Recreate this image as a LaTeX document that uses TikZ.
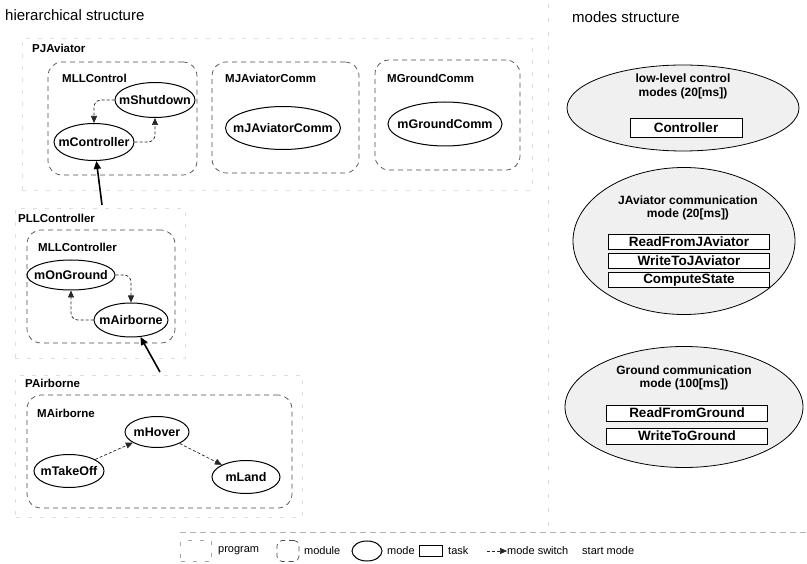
\documentclass[tikz,border=0pt]{standalone}
\usepackage{fontspec}
\setmainfont{Liberation Sans}
\usetikzlibrary{arrows.meta,shapes.geometric}

\begin{document}
\begin{tikzpicture}[
    x=1pt, y=-1pt,
    progbox/.style={draw=gray!25, dash pattern=on 4pt off 8pt, line width=0.6pt},
    modbox/.style={draw=black!70, dash pattern=on 5pt off 4pt, line width=0.7pt, rounded corners=14pt},
    modetext/.style={font=\fontsize{12.5}{14}\selectfont\bfseries, inner sep=0pt},
    modeell/.style={ellipse, draw, line width=1pt, inner sep=0pt, label={[modetext]center:#1}},
    biglabel/.style={font=\fontsize{11.5}{13}\selectfont\bfseries, anchor=west, inner sep=0pt},
    title/.style={font=\fontsize{15}{17}\selectfont, anchor=west, inner sep=0pt},
    modesell/.style={ellipse, draw, line width=0.8pt, fill=gray!12, inner sep=0pt},
    modestitle/.style={font=\fontsize{12}{13.5}\selectfont\bfseries, align=center, inner sep=0pt},
    taskbox/.style={draw, line width=0.8pt, fill=white, inner sep=0pt, minimum width=161pt,
        minimum height=15pt, font=\fontsize{13.5}{15}\selectfont\bfseries},
    legtext/.style={font=\fontsize{11}{12}\selectfont, anchor=west, inner sep=0pt},
    modeswitch/.style={-{Triangle[length=7pt,width=6pt]}, black!85, dash pattern=on 3pt off 2pt,
        line width=0.7pt, rounded corners=7pt},
    startmode/.style={-{Triangle[length=8pt,width=7pt]}, line width=1.6pt}
    ]
    \useasboundingbox (0,0) rectangle (807,564);

    % titles and separators
    \node[title] (tHier) at (5,15) {hierarchical structure};
    \node[title] (tModes) at (572,17) {modes structure};
    \coordinate (sepTop) at (548,4);
    \coordinate (sepBot) at (548,528);
    \draw[gray!30, dash pattern=on 4pt off 10pt] (sepTop) -- (sepBot);

    % programs
    \node[progbox, minimum width=510pt, minimum height=152pt] (PJAviator) at (277,114) {};
    \node[progbox, minimum width=170pt, minimum height=150pt] (PLLController) at (100,283) {};
    \node[progbox, minimum width=287pt, minimum height=142pt] (PAirborne) at (159,446) {};
    \node[biglabel] (lPJAviator) at (32,48) {PJAviator};
    \node[biglabel] (lPLLController) at (18,218) {PLLController};
    \node[biglabel] (lPAirborne) at (25,383) {PAirborne};

    % modules
    \node[modbox, minimum width=149pt, minimum height=113pt] (MLLControl) at (122.5,118.5) {};
    \node[modbox, minimum width=147pt, minimum height=111pt] (MJAviatorComm) at (285.5,117.5) {};
    \node[modbox, minimum width=145pt, minimum height=110pt] (MGroundComm) at (447.5,115) {};
    \node[modbox, minimum width=148pt, minimum height=113pt] (MLLController) at (101,286.5) {};
    \node[modbox, minimum width=265pt, minimum height=113pt] (MAirborne) at (159.5,451.5) {};
    \node[biglabel] (lMLLControl) at (62,78) {MLLControl};
    \node[biglabel] (lMJAviatorComm) at (225,78) {MJAviatorComm};
    \node[biglabel] (lMGroundComm) at (387,78) {MGroundComm};
    \node[biglabel] (lMLLController) at (38,247) {MLLController};
    \node[biglabel] (lMAirborne) at (37,413) {MAirborne};

    % modes
    \node[modeell=mShutdown, minimum width=80pt, minimum height=35pt] (mShut) at (155,100) {};
    \node[modeell=mController, minimum width=80pt, minimum height=37pt] (mCtrl) at (94,142) {};
    \node[modeell=mJAviatorComm, minimum width=115pt, minimum height=43pt] (mJAv) at (283,128) {};
    \node[modeell=mGroundComm, minimum width=114pt, minimum height=44pt] (mGnd) at (445,124) {};
    \node[modeell=mOnGround, minimum width=88pt, minimum height=30pt] (mOnG) at (71,275) {};
    \node[modeell=mAirborne, minimum width=74pt, minimum height=34pt] (mAir) at (131,320) {};
    \node[modeell=mHover, minimum width=64pt, minimum height=31pt] (mHov) at (157,432) {};
    \node[modeell=mTakeOff, minimum width=70pt, minimum height=33pt] (mTko) at (69,471) {};
    \node[modeell=mLand, minimum width=68pt, minimum height=33pt] (mLnd) at (246,477) {};

    % mode switches
    \draw[modeswitch] (mShut.west) -| (mCtrl.north);
    \draw[modeswitch] (mCtrl.east) -| (mShut.south);
    \draw[modeswitch] (mOnG.east) -| (mAir.north);
    \draw[modeswitch] (mAir.west) -| (mOnG.south);
    \draw[modeswitch] (mTko) -- (mHov);
    \draw[modeswitch] (mHov) -- (mLnd);

    % start modes
    \coordinate (sCtrl) at (102,205);
    \coordinate (sAir) at (160,372);
    \draw[startmode] (sCtrl) -- (mCtrl);
    \draw[startmode] (sAir) -- (mAir);

    % modes structure
    \node[modesell, minimum width=232pt, minimum height=86pt] (lowLevel) at (683,108) {};
    \node[modestitle] (tLowLevel) at (683,86.5) {low-level control\\modes (20[ms])};
    \node[taskbox, minimum width=112pt, minimum height=19pt] (tController) at (686,127.5) {Controller};

    \node[modesell, minimum width=222pt, minimum height=147pt] (javComm) at (684,241) {};
    \node[modestitle] (tJavComm) at (688,208) {JAviator communication\\mode (20[ms])};
    \node[taskbox] (tReadJ) at (689,242) {ReadFromJAviator};
    \node[taskbox] (tWriteJ) at (689,261) {WriteToJAviator};
    \node[taskbox] (tState) at (689,280) {ComputeState};

    \node[modesell, minimum width=238pt, minimum height=121pt] (groundComm) at (684,407) {};
    \node[modestitle] (tGroundComm) at (684,378) {Ground communication\\mode (100[ms])};
    \node[taskbox, minimum height=16pt] (tReadG) at (687,413) {ReadFromGround};
    \node[taskbox, minimum height=16pt] (tWriteG) at (687,436) {WriteToGround};

    % legend
    \coordinate (legL) at (180,532);
    \coordinate (legR) at (807,532);
    \draw[gray!60, dash pattern=on 6pt off 4pt] (legL) -- (legR);
    \node[progbox, draw=gray!70, minimum width=31pt, minimum height=21pt] (lgProg) at (196,551) {};
    \node[legtext] (lgProgT) at (218,551) {program};
    \node[modbox, rounded corners=5pt, minimum width=22pt, minimum height=21pt] (lgMod) at (288,551) {};
    \node[legtext] (lgModT) at (304,551) {module};
    \node[ellipse, draw, line width=1pt, minimum width=30pt, minimum height=20pt] (lgMode) at (367,551) {};
    \node[legtext] (lgModeT) at (387,551) {mode};
    \node[draw, line width=0.8pt, inner sep=0pt, minimum width=23pt, minimum height=11pt] (lgTask) at (431,551) {};
    \node[legtext] (lgTaskT) at (448,551) {task};
    \node[legtext] (lgSwT) at (507,551) {mode switch};
    \coordinate (lgSw) at (487,551);
    \draw[modeswitch] (lgSw) -- (lgSwT.west);
    \node[legtext] (lgStartT) at (582,551) {start mode};
\end{tikzpicture}
\end{document}
